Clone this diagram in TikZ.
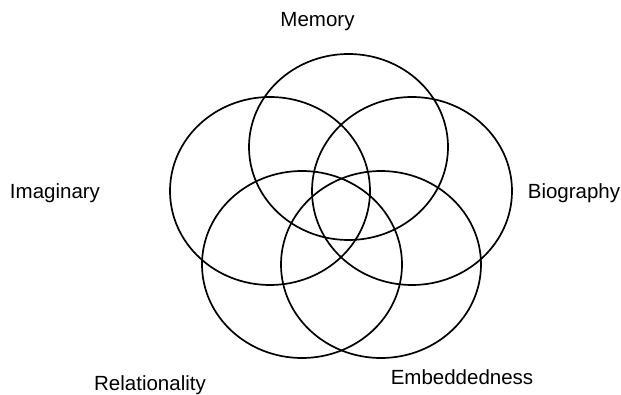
\documentclass[tikz,border=0pt]{standalone}
\usepackage{fontspec}
\setmainfont{Liberation Sans}
\begin{document}
\begin{tikzpicture}[x=1pt,y=-1pt,
  ring/.style={draw=black,line width=1.7pt},
  lbl/.style={font=\fontsize{20.5}{24}\selectfont,anchor=base,inner sep=0pt}]
\useasboundingbox (0,0) rectangle (621,395);
\draw[ring] (348.5,147) ellipse [x radius=99.5, y radius=93];
\draw[ring] (270,191) ellipse [x radius=100, y radius=94];
\draw[ring] (412,191) ellipse [x radius=100, y radius=94];
\draw[ring] (302,264.5) ellipse [x radius=100, y radius=93.5];
\draw[ring] (381,264.5) ellipse [x radius=100, y radius=93.5];
\node[lbl] (memory) at (317.5,27) {Memory};
\node[lbl] (imaginary) at (55,199) {Imaginary};
\node[lbl] (biography) at (574,199) {Biography};
\node[lbl] (relationality) at (150,390) {Relationality};
\node[lbl] (embeddedness) at (462,384) {Embeddedness};
\end{tikzpicture}
\end{document}
